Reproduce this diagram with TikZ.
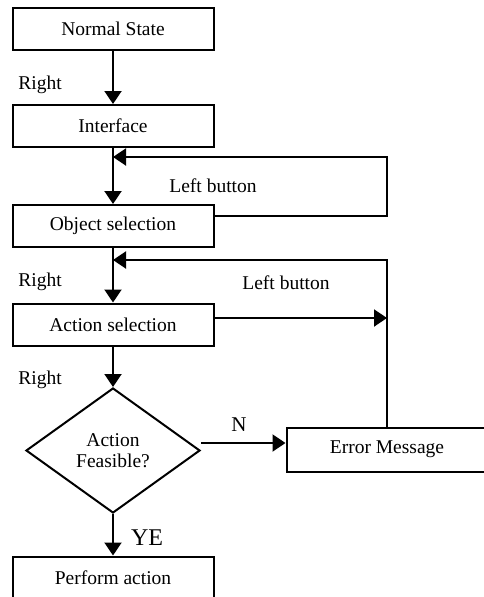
\documentclass[tikz,border=0pt]{standalone}
\usepackage{fontspec}
\setmainfont{Liberation Serif}
\usetikzlibrary{arrows.meta,shapes.geometric}
\begin{document}
\begin{tikzpicture}[x=1pt,y=-1pt,
  box/.style={draw,line width=2pt,minimum width=201pt,minimum height=42pt,inner sep=0pt,font=\fontsize{19.5}{21}\selectfont},
  dia/.style={draw,diamond,line width=2pt,minimum width=174pt,minimum height=125pt,inner sep=0pt,align=center,font=\fontsize{19.5}{21}\selectfont},
  lbl/.style={font=\fontsize{19.5}{21}\selectfont,inner sep=0pt},
  arr/.style={line width=2pt,-{Triangle[width=17pt,length=13pt]}},
  ln/.style={line width=2pt}]
\useasboundingbox (0,0) rectangle (484,597);
\node[box] (ns) at (113,29) {Normal State};
\node[box] (if) at (113,126) {Interface};
\node[box] (obj) at (113,226) {Object selection};
\node[box] (act) at (113,324.5) {Action selection};
\node[dia] (fea) at (113,450.5) {Action\\Feasible?};
\node[box,minimum height=44pt] (err) at (387,449.5) {Error Message};
\node[box] (pa) at (113,577.5) {Perform action};
\coordinate (j1) at (113,157);
\coordinate (r1) at (386.5,157);
\coordinate (j2) at (113,260);
\coordinate (a1) at ([yshift=6.5pt]act.east);
\coordinate (n1) at ([yshift=7.5pt]fea.east);
\draw[arr] (ns) -- (if);
\draw[arr] (if) -- (obj);
\draw[arr] ([yshift=10pt]obj.east) -| (r1) -- (j1);
\draw[arr] (obj) -- (act);
\draw[arr] (err.north) |- (j2);
\draw[arr] (a1) -- (a1 -| err.north);
\draw[arr] (act) -- (fea);
\draw[arr] (n1) -- (n1 -| err.west);
\draw[arr] (fea) -- (pa);
\node[lbl] (r1l) at (40,85) {Right};
\node[lbl] (lb1) at (213,186) {Left button};
\node[lbl] (r2l) at (40,282) {Right};
\node[lbl] (lb2) at (286,283) {Left button};
\node[lbl] (r3l) at (40,380) {Right};
\node[lbl,font=\fontsize{21}{23}\selectfont] (nl) at (239,425) {N};
\node[lbl,font=\fontsize{24}{26}\selectfont] (yel) at (147,538) {YE};
\end{tikzpicture}
\end{document}
